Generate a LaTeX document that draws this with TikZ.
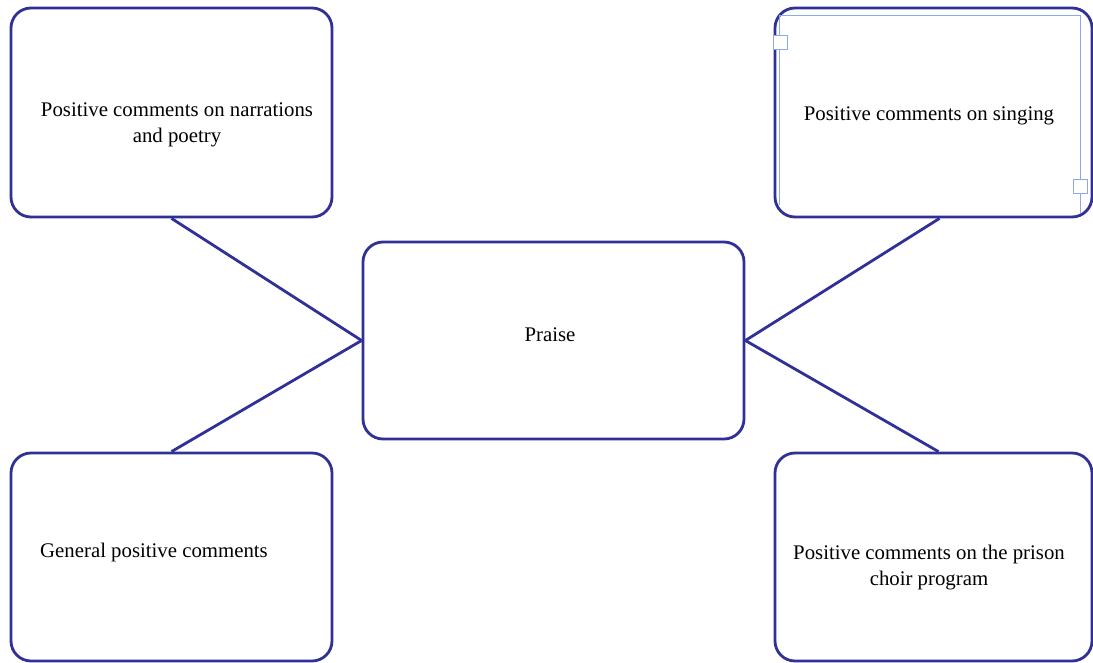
\documentclass[tikz,border=0pt]{standalone}
\usepackage{fontspec}
\setmainfont{Liberation Serif}
\newfontfamily\labelfont{Liberation Serif}
\definecolor{edgeblue}{RGB}{48,48,150}
\definecolor{selblue}{RGB}{140,170,235}
\begin{document}
\begin{tikzpicture}[x=1pt,y=-1pt,
  box/.style={draw=edgeblue,line width=2.8pt,rounded corners=20pt,fill=white,
    rectangle,inner sep=0pt},
  link/.style={draw=edgeblue,line width=2.8pt},
  lbl/.style={align=center,font=\labelfont\fontsize{20.8}{26}\selectfont,text=black,inner sep=0pt},
  handle/.style={draw=selblue,fill=white,line width=1pt,minimum size=14pt,inner sep=0pt,rectangle}]
\useasboundingbox (0,0) rectangle (1093,662);

% the five boxes
\node[box,minimum width=321pt,minimum height=209pt] (tl) at (171.5,112.5) {};
\node[box,minimum width=317pt,minimum height=209pt] (tr) at (933.5,112.5) {};
\node[box,minimum width=381pt,minimum height=197pt] (c)  at (553.5,340.5) {};
\node[box,minimum width=321pt,minimum height=208pt] (bl) at (171.5,557) {};
\node[box,minimum width=317pt,minimum height=208pt] (br) at (933.5,557) {};

% connectors from the outer boxes to the centre box
\draw[link] (tl.south) -- (c.west);
\draw[link] (bl.north) -- (c.west);
\draw[link] ([xshift=6pt]tr.south) -- (c.east);
\draw[link] ([xshift=5pt]br.north) -- (c.east);

% selection frame and handles on the singing box
\draw[selblue,line width=1pt] (779,15) -- (1080,15) -- (1080,213);
\draw[selblue,line width=1pt] (779,15) -- (779,205);
\node[handle] (h1) at (780,42) {};
\node[handle] (h2) at (1080,186) {};

% labels
\node[lbl] (ttl) at (177,125) {Positive comments on narrations\\and poetry};
\node[lbl] (ttr) at (929,116) {Positive comments on singing};
\node[lbl] (tc)  at (550,335) {Praise};
\node[lbl] (tbl) at (154,552) {General positive comments};
\node[lbl] (tbr) at (929,568) {Positive comments on the prison\\choir program};
\end{tikzpicture}
\end{document}
